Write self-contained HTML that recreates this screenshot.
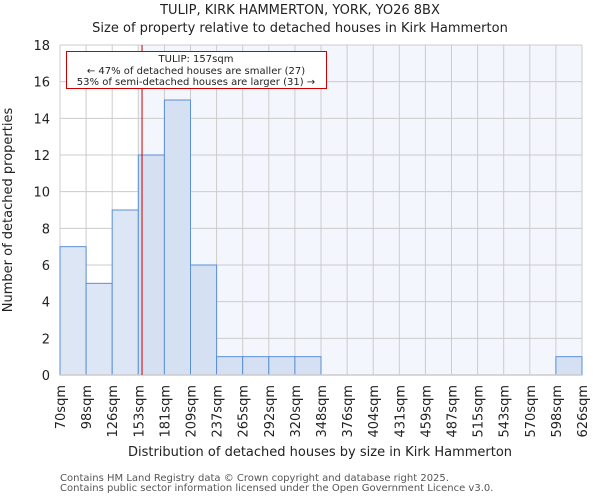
<!DOCTYPE html>
<html><head><meta charset="utf-8"><style>
body{margin:0;background:#fff;font-family:"DejaVu Sans","Liberation Sans",sans-serif}
</style></head><body>
<svg width="600" height="500" xmlns="http://www.w3.org/2000/svg" font-family="DejaVu Sans, Liberation Sans, sans-serif">
<g id="root"></g>
</svg>
<script>
const binEdges=[70,98,126,153,181,209,237,265,292,320,348,376,404,431,459,487,515,543,570,598,626];
const counts=[7,5,9,12,15,6,1,1,1,1,0,0,0,0,0,0,0,0,0,1];
const yTicks=[0,2,4,6,8,10,12,14,16,18];
const propertySize=157;
const NS="http://www.w3.org/2000/svg";
const root=document.getElementById('root');
const L=60,R=582,T=45,B=375,yMax=18;
const nb=counts.length,bw=(R-L)/nb;
const xi=i=>L+i*bw;
const xv=v=>{let i=0;while(i<nb-1&&v>binEdges[i+1])i++;return xi(i)+(v-binEdges[i])/(binEdges[i+1]-binEdges[i])*bw;};
const y=v=>B-v/yMax*(B-T);
function el(t,a,p){const e=document.createElementNS(NS,t);for(const k in a)e.setAttribute(k,a[k]);(p||root).appendChild(e);return e;}
let pi=0;while(pi<nb-1&&propertySize>binEdges[pi+1])pi++;
const bg1=el('rect',{x:L,y:T,width:xi(pi)-L,height:B-T,fill:'#fff'});


const bg2=el('rect',{x:xi(pi),y:T,width:R-xi(pi),height:B-T,fill:'#f3f6fd'});


for(let i=0;i<=nb;i++){const g=el('line',{x1:xi(i),x2:xi(i),y1:T,y2:B,stroke:'#cccccc','stroke-width':1});

}
yTicks.forEach(v=>{const g=el('line',{x1:L,x2:R,y1:y(v),y2:y(v),stroke:'#cccccc','stroke-width':1});


const t=el('text',{x:L-10,y:y(v)+5,'text-anchor':'end','font-size':13,fill:'#222'});t.textContent=v;

});
counts.forEach((c,i)=>{if(!c)return;const r=el('rect',{x:xi(i),y:y(c),width:bw,height:B-y(c),fill:i<pi?'#dce6f5':'#d5e1f3',stroke:'#5b8fd6','stroke-width':1});

});
const ax=el('line',{x1:L,x2:R,y1:B,y2:B,stroke:'#ccc','stroke-width':1.5});


binEdges.forEach((b,i)=>{const t=el('text',{transform:`translate(${xi(i)+5},${B+10}) rotate(-90)`,'text-anchor':'end','font-size':13,fill:'#222'});t.textContent=b+'sqm';

});
const px=xv(propertySize);
const pl=el('line',{x1:px,x2:px,y1:T,y2:B,stroke:'#cc0000','stroke-width':1});


const box=el('rect',{x:66.5,y:51.5,width:260,height:37,fill:'#fff',stroke:'#cc0000','stroke-width':1});


[['TULIP: 157sqm',62],['← 47% of detached houses are smaller (27)',74],['53% of semi-detached houses are larger (31) →',85]].forEach(([s,yy])=>{const t=el('text',{x:196,y:yy,'text-anchor':'middle','font-size':10,fill:'#222'});t.textContent=s;

});
[['TULIP, KIRK HAMMERTON, YORK, YO26 8BX',14],['Size of property relative to detached houses in Kirk Hammerton',32]].forEach(([s,yy])=>{const t=el('text',{x:300,y:yy,'text-anchor':'middle','font-size':13,fill:'#222'});t.textContent=s;

});
const yt=el('text',{transform:'translate(12,210) rotate(-90)','text-anchor':'middle','font-size':13,fill:'#222'});yt.textContent='Number of detached properties';


const xt=el('text',{x:320,y:456,'text-anchor':'middle','font-size':13,fill:'#222'});xt.textContent='Distribution of detached houses by size in Kirk Hammerton';


[['Contains HM Land Registry data © Crown copyright and database right 2025.',481],['Contains public sector information licensed under the Open Government Licence v3.0.',491]].forEach(([s,yy])=>{const t=el('text',{x:60,y:yy,'font-size':10,fill:'#555'});t.textContent=s;

});
</script>
</body></html>
